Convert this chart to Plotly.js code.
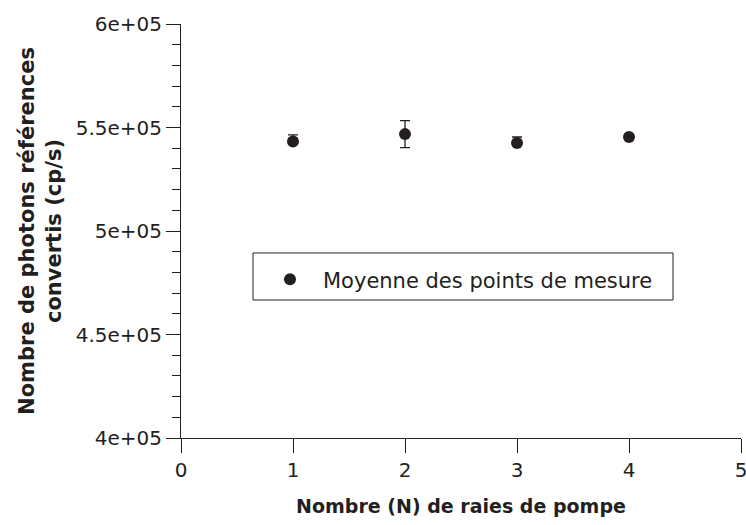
<!DOCTYPE html>
<html>
<head>
<meta charset="utf-8">
<script src="https://cdn.plot.ly/plotly-3.0.1.min.js"></script>
<style>html,body{margin:0;padding:0;background:#fff;}#chart{width:746px;height:525px;}</style>
</head>
<body>
<div id="chart"></div>
<script>
const nRaies = [1, 2, 3, 4];
const moyenne = [543200, 546800, 542500, 545400];
const erreurPlus = [3200, 6500, 2900, 0];
const erreurMoins = [1000, 6500, 1000, 0];
const xTicks = [0, 1, 2, 3, 4, 5];
const yTicks = [400000, 450000, 500000, 550000, 600000];
const yTickText = ['4e+05', '4.5e+05', '5e+05', '5.5e+05', '6e+05'];

const ink = '#231f20';
const fontFam = 'DejaVu Sans, Verdana, sans-serif';

const trace = {
  x: nRaies,
  y: moyenne,
  type: 'scatter',
  mode: 'markers',
  name: 'Moyenne des points de mesure',
  marker: {color: ink, size: 12, symbol: 'circle'},
  error_y: {type: 'data', symmetric: false, array: erreurPlus, arrayminus: erreurMoins, visible: true, color: ink, thickness: 1.3, width: 5}
};

const layout = {
  width: 746, height: 525,
  margin: {l: 181, r: 5, t: 24, b: 87},
  paper_bgcolor: '#fff', plot_bgcolor: '#fff',
  font: {family: fontFam, color: ink, size: 20},
  showlegend: true,
  legend: {
    x: 0.1357, y: 0.432, xanchor: 'left', yanchor: 'top',
    borderwidth: 0, bgcolor: 'rgba(0,0,0,0)',
    font: {family: fontFam, size: 21, color: ink},
    itemwidth: 56
  },
  shapes: [{
    type: 'rect', xref: 'paper', yref: 'paper',
    x0: 0.1286, x1: 0.8786, y0: 0.3333, y1: 0.4469,
    line: {color: ink, width: 1}, fillcolor: 'rgba(0,0,0,0)', layer: 'above'
  }],
  xaxis: {
    range: [0, 5], tickvals: xTicks, ticktext: xTicks.map(String),
    showgrid: false, zeroline: false, showline: true, linecolor: ink, linewidth: 1,
    ticks: 'outside', ticklen: 14, tickwidth: 1, tickcolor: ink,
    ticklabeloverflow: 'allow',
    tickfont: {size: 20, family: fontFam, color: ink},
    title: {text: '<b>Nombre (N) de raies de pompe</b>', font: {size: 19, family: fontFam, color: ink}, standoff: 18}
  },
  yaxis: {
    range: [400000, 600000], tickvals: yTicks, ticktext: yTickText,
    showgrid: false, zeroline: false, showline: true, linecolor: ink, linewidth: 1,
    ticks: 'outside', ticklen: 14, tickwidth: 1, tickcolor: ink,
    tickfont: {size: 20, family: fontFam, color: ink},
    minor: {dtick: 10000, ticks: 'outside', ticklen: 8, tickwidth: 1, tickcolor: ink, showgrid: false},
    title: {text: '<b>Nombre de photons références<br>convertis (cp/s)</b>', font: {size: 21, family: fontFam, color: ink}, standoff: 8}
  }
};

Plotly.newPlot('chart', [trace], layout, {displayModeBar: false, staticPlot: true});
</script>
</body>
</html>
